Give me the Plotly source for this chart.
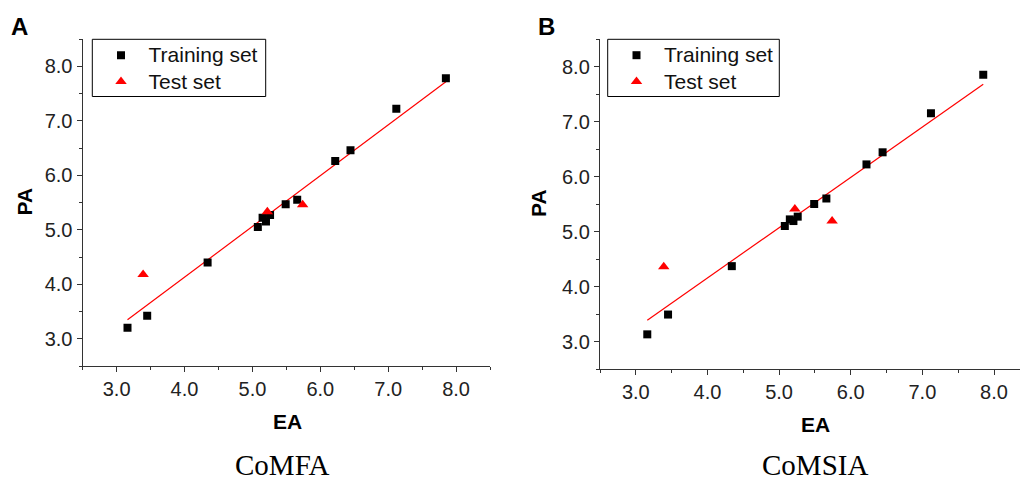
import numpy as np
import plotly.graph_objects as go

# ---- data ----
train_ea = [7.85, 7.12, 6.445, 6.22, 5.66, 5.49, 5.26, 5.15, 5.20, 5.08, 4.34, 3.45, 3.16]
train_pa_comfa = [7.78, 7.22, 6.46, 6.26, 5.55, 5.47, 5.27, 5.22, 5.15, 5.05, 4.40, 3.42, 3.20]
train_pa_comsia = [7.85, 7.15, 6.44, 6.22, 5.60, 5.50, 5.27, 5.22, 5.19, 5.10, 4.37, 3.49, 3.13]
test_ea = [5.22, 5.74, 3.39]
test_pa_comfa = [5.33, 5.46, 4.18]
test_pa_comsia = [5.41, 5.19, 4.36]
tick_vals = [3.0, 4.0, 5.0, 6.0, 7.0, 8.0]
panel_labels = ["A", "B"]
captions = ["CoMFA", "CoMSIA"]
legend_names = ["Training set", "Test set"]

W, H = 1020, 484
def px(x): return x / W
def py(y): return 1 - y / H

fig = go.Figure()

panels = [
    (train_pa_comfa, test_pa_comfa, "x", "y", "legend"),
    (train_pa_comsia, test_pa_comsia, "x2", "y2", "legend2"),
]
for tr_pa, te_pa, xa, ya, lg in panels:
    all_x = np.array(train_ea + test_ea)
    all_y = np.array(tr_pa + te_pa)
    k, b = np.polyfit(all_x, all_y, 1)
    lx = np.array([all_x.min(), all_x.max()])
    fig.add_trace(go.Scatter(x=lx, y=k * lx + b, mode="lines",
                             line=dict(color="#ff0000", width=1.2),
                             showlegend=False, xaxis=xa, yaxis=ya, hoverinfo="skip"))
    fig.add_trace(go.Scatter(x=train_ea, y=tr_pa, mode="markers",
                             name='<span style="font-size:21px">%s</span>' % legend_names[0],
                             marker=dict(symbol="square", size=8, color="black"),
                             xaxis=xa, yaxis=ya, legend=lg))
    fig.add_trace(go.Scatter(x=test_ea, y=te_pa, mode="markers",
                             name='<span style="font-size:21px">%s</span>' % legend_names[1],
                             marker=dict(symbol="triangle-up", size=10, color="#ff0000"),
                             xaxis=xa, yaxis=ya, legend=lg))

axis_common = dict(
    showline=True, linecolor="#333333", linewidth=1.4, mirror=False,
    ticks="outside", ticklen=5, tickwidth=1.3, tickcolor="#333333",
    tickvals=tick_vals, tickformat=".1f",
    tickfont=dict(family="Liberation Sans", size=20, color="#222222"),
    showgrid=False, zeroline=False,
    minor=dict(dtick=0.5, tick0=0, ticks="outside", ticklen=3, tickwidth=1.3,
               tickcolor="#333333", showgrid=False),
)

legend_common = dict(xanchor="left", yanchor="top", borderwidth=0,
                     bgcolor="rgba(0,0,0,0)",
                     font=dict(family="Liberation Sans", size=18, color="#111111"),
                     itemwidth=45, tracegroupgap=0)

fig.update_layout(
    width=W, height=H,
    margin=dict(l=0, r=0, t=0, b=0),
    paper_bgcolor="white", plot_bgcolor="white",
    xaxis=dict(domain=[px(82.7), px(490)], range=[2.5, 8.5], anchor="y", **axis_common),
    yaxis=dict(domain=[py(366), py(39)], range=[2.5, 8.5], anchor="x", **axis_common),
    xaxis2=dict(domain=[px(600), 1.0], range=[2.5, 8.363], anchor="y2", **axis_common),
    yaxis2=dict(domain=[py(369), py(39)], range=[2.5, 8.5], anchor="x2", **axis_common),
    legend=dict(x=px(93.5), y=py(37), **legend_common),
    legend2=dict(x=px(609), y=py(37), **legend_common),
    showlegend=True,
)

# legend frames
shapes = []
for x0, x1 in [(92.3, 265.7), (607.7, 779.3)]:
    shapes.append(dict(type="rect", xref="paper", yref="paper",
                       x0=px(x0), x1=px(x1), y0=py(96.5), y1=py(39.3),
                       line=dict(color="black", width=1), fillcolor="rgba(0,0,0,0)",
                       layer="above"))
fig.update_layout(shapes=shapes)

ann = []
# panel letters
for lab, x in zip(panel_labels, [19.5, 546]):
    ann.append(dict(text="<b>%s</b>" % lab, x=px(x), y=py(27), xref="paper", yref="paper",
                    showarrow=False, xanchor="center", yanchor="middle",
                    font=dict(family="Liberation Sans", size=24, color="black")))
# axis titles
for x, y in [(23.5, 202), (538, 203)]:
    ann.append(dict(text="<b>PA</b>", x=px(x), y=py(y), xref="paper", yref="paper",
                    showarrow=False, textangle=-90, xanchor="center", yanchor="middle",
                    font=dict(family="Liberation Sans", size=21, color="black")))
for x, y in [(287, 421.5), (815, 424)]:
    ann.append(dict(text="<b>EA</b>", x=px(x), y=py(y), xref="paper", yref="paper",
                    showarrow=False, xanchor="center", yanchor="middle",
                    font=dict(family="Liberation Sans", size=21, color="black")))
# captions
for cap, x in zip(captions, [282, 814.5]):
    ann.append(dict(text=cap, x=px(x), y=py(465), xref="paper", yref="paper",
                    showarrow=False, xanchor="center", yanchor="middle",
                    font=dict(family="Liberation Serif", size=29, color="black")))
fig.update_layout(annotations=ann)

fig.write_html("out.html", config={"displayModeBar": False},
               post_script="document.body.style.margin='0px';document.body.style.overflow='hidden';")
